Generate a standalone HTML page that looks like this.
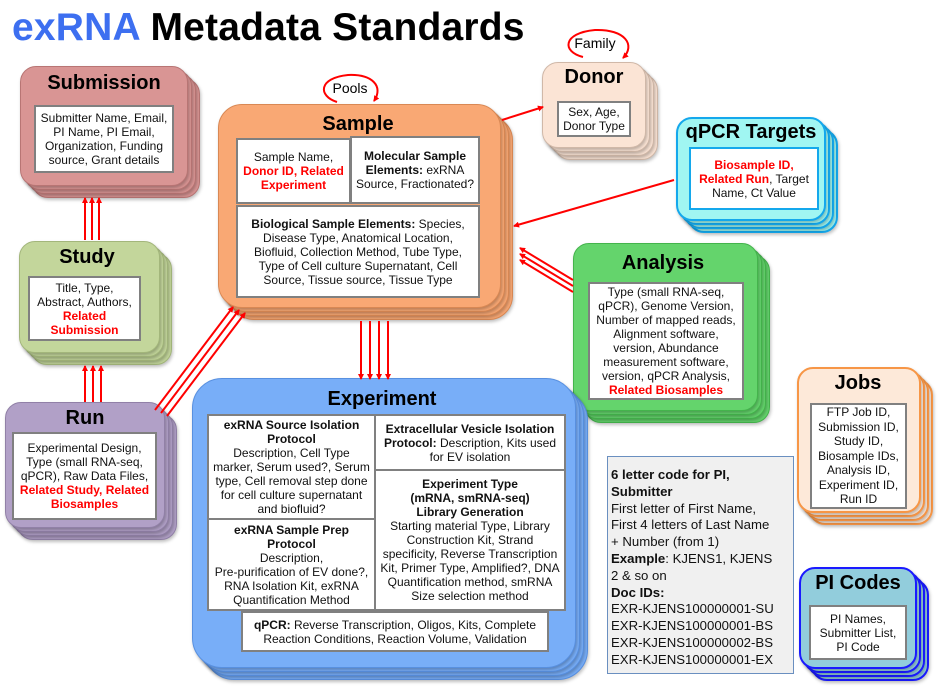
<!DOCTYPE html>
<html><head><meta charset="utf-8"><style>
body{margin:0;width:938px;height:690px;background:#fff;position:relative;overflow:hidden;font-family:"Liberation Sans",sans-serif;}
.a{position:absolute;box-sizing:border-box;}
.c{position:absolute;box-sizing:border-box;border-radius:16px;box-shadow:1px 2px 3px rgba(0,0,0,.25);}
.t{position:absolute;font-weight:bold;font-size:20px;text-align:center;color:#000;}
.b{position:absolute;box-sizing:border-box;background:#fff;border:2px solid #808080;font-size:12px;line-height:14px;text-align:center;color:#111;display:flex;align-items:center;justify-content:center;padding:0 2px;flex-direction:column;white-space:nowrap;}
.r{color:#f00;font-weight:bold;}
</style></head><body>
<div class="a" style="left:12px;top:6px;font-size:39px;font-weight:bold;white-space:nowrap;letter-spacing:0.2px"><span style="color:#3d6ff0">exRNA</span> Metadata Standards</div>

<!-- Submission -->
<div class="c" style="left:32px;top:78px;width:168px;height:120px;background:#d99594;border:1px solid #b87574"></div>
<div class="c" style="left:28px;top:74px;width:168px;height:120px;background:#d99594;border:1px solid #b87574"></div>
<div class="c" style="left:24px;top:70px;width:168px;height:120px;background:#d99594;border:1px solid #b87574"></div>
<div class="c" style="left:20px;top:66px;width:168px;height:120px;background:#d99594;border:1px solid #b87574"></div>
<div class="t" style="left:20px;top:72px;width:168px">Submission</div>
<div class="b" style="left:34px;top:105px;width:140px;height:68px">Submitter Name, Email,<br>PI Name, PI Email,<br>Organization, Funding<br>source, Grant details</div>

<!-- Study -->
<div class="c" style="left:31px;top:253px;width:141px;height:112px;background:#c3d69b;border:1px solid #a3b67b"></div>
<div class="c" style="left:27px;top:249px;width:141px;height:112px;background:#c3d69b;border:1px solid #a3b67b"></div>
<div class="c" style="left:23px;top:245px;width:141px;height:112px;background:#c3d69b;border:1px solid #a3b67b"></div>
<div class="c" style="left:19px;top:241px;width:141px;height:112px;background:#c3d69b;border:1px solid #a3b67b"></div>
<div class="t" style="left:19px;top:246px;width:136px">Study</div>
<div class="b" style="left:28px;top:276px;width:113px;height:65px">Title, Type,<br>Abstract, Authors,<br><span class="r">Related<br>Submission</span></div>

<!-- Run -->
<div class="c" style="left:17px;top:414px;width:160px;height:126px;background:#b1a0c7;border:1px solid #9180a7"></div>
<div class="c" style="left:13px;top:410px;width:160px;height:126px;background:#b1a0c7;border:1px solid #9180a7"></div>
<div class="c" style="left:9px;top:406px;width:160px;height:126px;background:#b1a0c7;border:1px solid #9180a7"></div>
<div class="c" style="left:5px;top:402px;width:160px;height:126px;background:#b1a0c7;border:1px solid #9180a7"></div>
<div class="t" style="left:5px;top:407px;width:160px">Run</div>
<div class="b" style="left:12px;top:432px;width:145px;height:88px">Experimental Design,<br>Type (small RNA-seq,<br>qPCR), Raw Data Files,<br><span class="r">Related Study, Related<br>Biosamples</span></div>

<!-- Sample -->
<div class="c" style="left:230px;top:116px;width:283px;height:204px;background:#f9a874;border:1px solid #d98854;border-radius:24px"></div>
<div class="c" style="left:226px;top:112px;width:283px;height:204px;background:#f9a874;border:1px solid #d98854;border-radius:24px"></div>
<div class="c" style="left:222px;top:108px;width:283px;height:204px;background:#f9a874;border:1px solid #d98854;border-radius:24px"></div>
<div class="c" style="left:218px;top:104px;width:283px;height:204px;background:#f9a874;border:1px solid #d98854;border-radius:24px"></div>
<div class="t" style="left:218px;top:113px;width:280px">Sample</div>
<div class="b" style="left:236px;top:138px;width:115px;height:66px">Sample Name,<br><span class="r">Donor ID, Related<br>Experiment</span></div>
<div class="b" style="left:350px;top:136px;width:130px;height:68px"><span><b>Molecular Sample<br>Elements:</b> exRNA<br>Source, Fractionated?</span></div>
<div class="b" style="left:236px;top:205px;width:244px;height:93px"><span><b>Biological Sample Elements:</b> Species,<br>Disease Type, Anatomical Location,<br>Biofluid, Collection Method, Tube Type,<br>Type of Cell culture Supernatant, Cell<br>Source, Tissue source, Tissue Type</span></div>

<!-- Donor -->
<div class="c" style="left:554px;top:74px;width:104px;height:86px;background:#fbe4d5;border:1px solid #d0b8a8"></div>
<div class="c" style="left:550px;top:70px;width:104px;height:86px;background:#fbe4d5;border:1px solid #d0b8a8"></div>
<div class="c" style="left:546px;top:66px;width:104px;height:86px;background:#fbe4d5;border:1px solid #d0b8a8"></div>
<div class="c" style="left:542px;top:62px;width:104px;height:86px;background:#fbe4d5;border:1px solid #d0b8a8"></div>
<div class="t" style="left:542px;top:66px;width:104px">Donor</div>
<div class="b" style="left:557px;top:101px;width:74px;height:36px">Sex, Age,<br>Donor Type</div>

<!-- qPCR Targets -->
<div class="c" style="left:688px;top:129px;width:150px;height:104px;background:#a0f6f2;border:2px solid #14a8ec"></div>
<div class="c" style="left:684px;top:125px;width:150px;height:104px;background:#a0f6f2;border:2px solid #14a8ec"></div>
<div class="c" style="left:680px;top:121px;width:150px;height:104px;background:#a0f6f2;border:2px solid #14a8ec"></div>
<div class="c" style="left:676px;top:117px;width:150px;height:104px;background:#a0f6f2;border:2px solid #14a8ec"></div>
<div class="t" style="left:676px;top:121px;width:150px">qPCR Targets</div>
<div class="b" style="left:689px;top:147px;width:130px;height:63px;border:2px solid #14a8ec"><span><span class="r">Biosample ID,<br>Related Run</span>, Target<br>Name, Ct Value</span></div>

<!-- Analysis -->
<div class="c" style="left:585px;top:255px;width:185px;height:168px;background:#64d46c;border:1px solid #44b44c"></div>
<div class="c" style="left:581px;top:251px;width:185px;height:168px;background:#64d46c;border:1px solid #44b44c"></div>
<div class="c" style="left:577px;top:247px;width:185px;height:168px;background:#64d46c;border:1px solid #44b44c"></div>
<div class="c" style="left:573px;top:243px;width:185px;height:168px;background:#64d46c;border:1px solid #44b44c"></div>
<div class="t" style="left:573px;top:252px;width:180px">Analysis</div>
<div class="b" style="left:588px;top:282px;width:156px;height:118px;line-height:14px">Type (small RNA-seq,<br>qPCR), Genome Version,<br>Number of mapped reads,<br>Alignment software,<br>version, Abundance<br>measurement software,<br>version, qPCR Analysis,<br><span class="r">Related Biosamples</span></div>

<!-- Experiment -->
<div class="c" style="left:204px;top:390px;width:384px;height:290px;background:#78aef8;border:1px solid #5890e0;border-radius:30px"></div>
<div class="c" style="left:200px;top:386px;width:384px;height:290px;background:#78aef8;border:1px solid #5890e0;border-radius:30px"></div>
<div class="c" style="left:196px;top:382px;width:384px;height:290px;background:#78aef8;border:1px solid #5890e0;border-radius:30px"></div>
<div class="c" style="left:192px;top:378px;width:384px;height:290px;background:#78aef8;border:1px solid #5890e0;border-radius:30px"></div>
<div class="t" style="left:192px;top:388px;width:380px">Experiment</div>
<div class="b" style="left:207px;top:414px;width:169px;height:106px"><span><b>exRNA Source Isolation<br>Protocol</b><br>Description, Cell Type<br>marker, Serum used?, Serum<br>type, Cell removal step done<br>for cell culture supernatant<br>and biofluid?</span></div>
<div class="b" style="left:207px;top:518px;width:169px;height:93px"><span><b>exRNA Sample Prep<br>Protocol</b><br>Description,<br>Pre-purification of EV done?,<br>RNA Isolation Kit, exRNA<br>Quantification Method</span></div>
<div class="b" style="left:374px;top:414px;width:192px;height:57px"><span><b>Extracellular Vesicle Isolation<br>Protocol:</b> Description, Kits used<br>for EV isolation</span></div>
<div class="b" style="left:374px;top:469px;width:192px;height:142px"><span><b>Experiment Type<br>(mRNA, smRNA-seq)<br>Library Generation</b><br>Starting material Type, Library<br>Construction Kit, Strand<br>specificity, Reverse Transcription<br>Kit, Primer Type, Amplified?, DNA<br>Quantification method, smRNA<br>Size selection method</span></div>
<div class="b" style="left:241px;top:611px;width:308px;height:41px"><span><b>qPCR:</b> Reverse Transcription, Oligos, Kits, Complete<br>Reaction Conditions, Reaction Volume, Validation</span></div>

<!-- Jobs -->
<div class="c" style="left:809px;top:379px;width:124px;height:146px;background:#fde9d9;border:2px solid #f79646"></div>
<div class="c" style="left:805px;top:375px;width:124px;height:146px;background:#fde9d9;border:2px solid #f79646"></div>
<div class="c" style="left:801px;top:371px;width:124px;height:146px;background:#fde9d9;border:2px solid #f79646"></div>
<div class="c" style="left:797px;top:367px;width:124px;height:146px;background:#fde9d9;border:2px solid #f79646"></div>
<div class="t" style="left:797px;top:372px;width:122px">Jobs</div>
<div class="b" style="left:810px;top:403px;width:97px;height:106px;line-height:14.5px">FTP Job ID,<br>Submission ID,<br>Study ID,<br>Biosample IDs,<br>Analysis ID,<br>Experiment ID,<br>Run ID</div>

<!-- PI Codes -->
<div class="c" style="left:811px;top:579px;width:118px;height:102px;background:#92cddc;border:2px solid #1a1aff"></div>
<div class="c" style="left:807px;top:575px;width:118px;height:102px;background:#92cddc;border:2px solid #1a1aff"></div>
<div class="c" style="left:803px;top:571px;width:118px;height:102px;background:#92cddc;border:2px solid #1a1aff"></div>
<div class="c" style="left:799px;top:567px;width:118px;height:102px;background:#92cddc;border:2px solid #1a1aff"></div>
<div class="t" style="left:799px;top:572px;width:118px">PI Codes</div>
<div class="b" style="left:809px;top:605px;width:98px;height:55px">PI Names,<br>Submitter List,<br>PI Code</div>

<!-- Note -->
<div class="a" style="left:607px;top:456px;width:187px;height:218px;background:#f0f0f0;border:1px solid #6a8fc0;padding:10px 0 0 3px;font-size:13.2px;line-height:16.8px;color:#111;white-space:nowrap"><b>6 letter code for PI,<br>Submitter</b><br>First letter of First Name,<br>First 4 letters of Last Name<br>+ Number (from 1)<br><b>Example</b>: KJENS1, KJENS<br>2 &amp; so on<br><b>Doc IDs:</b><br>EXR-KJENS100000001-SU<br>EXR-KJENS100000001-BS<br>EXR-KJENS100000002-BS<br>EXR-KJENS100000001-EX</div>

<svg class="a" style="left:0;top:0" width="938" height="690">
<defs><marker id="m" markerWidth="6" markerHeight="6" refX="5" refY="3" orient="auto" markerUnits="userSpaceOnUse"><path d="M0,0 L6,3 L0,6 z" fill="#f00"/></marker></defs>
<g stroke="#f00" stroke-width="2" fill="none" marker-end="url(#m)">
<line x1="85" y1="240" x2="85" y2="198"/><line x1="92" y1="240" x2="92" y2="198"/><line x1="99" y1="240" x2="99" y2="198"/>
<line x1="85" y1="402" x2="85" y2="366"/><line x1="93" y1="402" x2="93" y2="366"/><line x1="101" y1="402" x2="101" y2="366"/>
<line x1="155" y1="410" x2="233" y2="307"/><line x1="161" y1="413" x2="239" y2="310"/><line x1="167" y1="416" x2="245" y2="313"/>
<line x1="361" y1="321" x2="361" y2="379"/><line x1="370" y1="321" x2="370" y2="379"/><line x1="379" y1="321" x2="379" y2="379"/><line x1="388" y1="321" x2="388" y2="379"/>
<line x1="502" y1="120" x2="543" y2="107"/>
<line x1="674" y1="180" x2="514" y2="226"/>
<line x1="573" y1="280" x2="520" y2="248"/><line x1="573" y1="286" x2="520" y2="254"/><line x1="573" y1="292" x2="520" y2="260"/>
<path d="M337,102 C318,96 318,78 348,75 C372,74 384,86 374,101"/>
<path d="M583,57 C562,52 562,33 595,30 C625,29 636,45 623,58"/>
</g>
<text x="350" y="93" font-family="Liberation Sans" font-size="14" text-anchor="middle">Pools</text>
<text x="595" y="48" font-family="Liberation Sans" font-size="14" text-anchor="middle">Family</text>
</svg>
</body></html>
